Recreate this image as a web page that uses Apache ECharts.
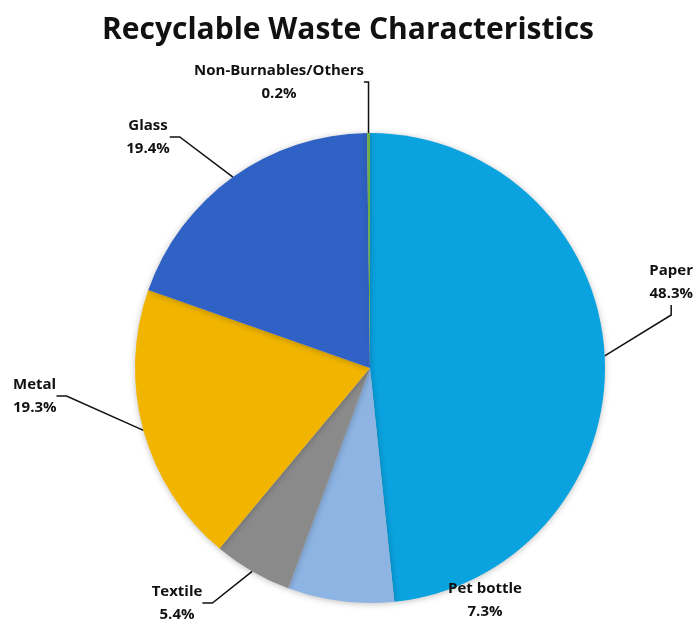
<!DOCTYPE html>
<html>
<head>
<meta charset="utf-8">
<script src="https://cdn.jsdelivr.net/npm/echarts@6/dist/echarts.min.js"></script>
<style>html,body{margin:0;padding:0;background:#fff}#c{width:696px;height:623px}</style>
</head>
<body>
<div id="c"></div>
<script>
const categories = ['Paper', 'Pet bottle', 'Textile', 'Metal', 'Glass', 'Non-Burnables/Others'];
const values = [48.3, 7.3, 5.4, 19.3, 19.4, 0.2];
const colors = ['#0aa2df', '#8db4e2', '#8a8a8a', '#f1b500', '#2f62c4', '#70ad47'];
// label placement (style only)
const labelPlace = [
  {x: 693, y: 282, align: 'right', line: true},
  {x: 485, y: 600, align: 'center', line: false},
  {x: 177, y: 603, align: 'center', line: true},
  {x: 13, y: 396, align: 'left', line: true},
  {x: 148, y: 137, align: 'center', line: true},
  {x: 279, y: 82, align: 'center', line: true}
];

const chart = echarts.init(document.getElementById('c'), null, {renderer: 'canvas'});
chart.setOption({
  animation: false,
  title: {
    text: 'Recyclable Waste Characteristics',
    left: 'center', top: 10,
    textStyle: {fontFamily: 'Open Sans', fontWeight: 'bold', fontSize: 30, color: '#111'}
  },
  series: [{
    type: 'pie',
    center: [370, 368],
    radius: 235,
    startAngle: 90,
    clockwise: true,
    data: categories.map((c, i) => ({
      name: c, value: values[i], itemStyle: {color: colors[i]},
      labelLine: {show: labelPlace[i].line}
    })),
    itemStyle: {shadowBlur: 6, shadowColor: 'rgba(0,0,0,0.25)', shadowOffsetY: 1},
    label: {
      show: true,
      formatter: '{b}\n{c}%',
      fontFamily: 'Open Sans',
      fontWeight: 'bold',
      fontSize: 15,
      lineHeight: 23,
      color: '#111'
    },
    labelLine: {show: true, length: 20, length2: 10, lineStyle: {color: '#111', width: 1.5}},
    labelLayout: function (p) {
      const s = labelPlace[p.dataIndex];
      return {x: s.x, y: s.y, align: s.align, verticalAlign: 'middle'};
    }
  }]
});
</script>
</body>
</html>
